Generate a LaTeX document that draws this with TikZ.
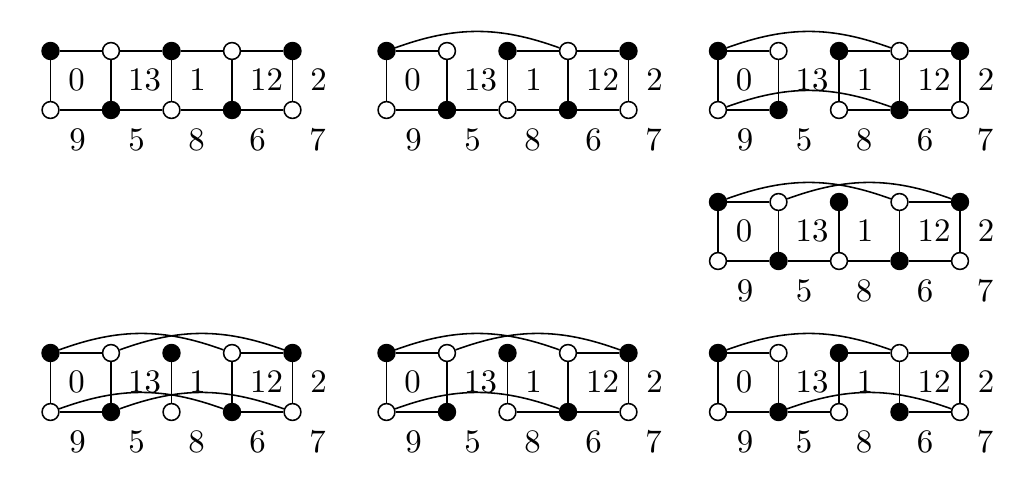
\documentclass[tikz,border=0pt]{standalone}
\newcommand{\mkpanel}[3]{%
  \foreach \i/\cl in {0/bv,1/wv,2/bv,3/wv,4/bv}
    \node[\cl] (#1t\i) at ({#2+60.5*\i},#3) {};
  \foreach \i/\cl in {0/wv,1/bv,2/wv,3/bv,4/wv}
    \node[\cl] (#1b\i) at ({#2+60.5*\i},{#3-59}) {};
  \foreach \dx/\tx in {26/0,94/13,147/1,216/12,268/2}
    \node[lab] (#1m\tx) at ({#2+\dx},{#3-29}) {\tx};
  \foreach \dx/\tx in {27/9,86/5,146/8,207/6,267/7}
    \node[lab] (#1n\tx) at ({#2+\dx},{#3-89}) {\tx};
  \foreach \i in {0,...,4}
    \draw[ed] (#1t\i) -- (#1b\i);
}
\begin{document}
\begin{tikzpicture}[x=0.32pt,y=0.32pt,
  vtx/.style={circle,draw,line width=0.5pt,inner sep=0pt,minimum size=5.4pt},
  bv/.style={vtx,fill=black},
  wv/.style={vtx,fill=white},
  ed/.style={line width=0.5pt},
  arcup/.style={ed,bend left=20},
  lab/.style={inner sep=0pt,font=\fontsize{10.5}{12}\selectfont}]
\useasboundingbox (0,0) rectangle (1035,481);

% Panel 1
\mkpanel{pa}{50.5}{430}
\draw[ed] (pat0)--(pat1) (pat1)--(pat2) (pat2)--(pat3) (pat3)--(pat4);
\draw[ed] (pab0)--(pab1) (pab1)--(pab2) (pab2)--(pab3) (pab3)--(pab4);

% Panel 2
\mkpanel{pb}{386.5}{430}
\draw[ed] (pbt0)--(pbt1) (pbt2)--(pbt3) (pbt3)--(pbt4);
\draw[arcup] (pbt0) to (pbt3);
\draw[ed] (pbb0)--(pbb1) (pbb1)--(pbb2) (pbb2)--(pbb3) (pbb3)--(pbb4);

% Panel 3
\mkpanel{pc}{718}{430}
\draw[ed] (pct0)--(pct1) (pct2)--(pct3) (pct3)--(pct4);
\draw[arcup] (pct0) to (pct3);
\draw[ed] (pcb0)--(pcb1) (pcb2)--(pcb3) (pcb3)--(pcb4);
\draw[arcup] (pcb0) to (pcb3);

% Panel 4
\mkpanel{pd}{718}{279}
\draw[ed] (pdt0)--(pdt1) (pdt3)--(pdt4);
\draw[arcup] (pdt0) to (pdt3);
\draw[arcup] (pdt1) to (pdt4);
\draw[ed] (pdb0)--(pdb1) (pdb1)--(pdb2) (pdb2)--(pdb3) (pdb3)--(pdb4);

% Panel 5
\mkpanel{pe}{50.5}{128}
\draw[ed] (pet0)--(pet1) (pet3)--(pet4);
\draw[arcup] (pet0) to (pet3);
\draw[arcup] (pet1) to (pet4);
\draw[ed] (peb0)--(peb1) (peb3)--(peb4);
\draw[arcup] (peb0) to (peb3);
\draw[arcup] (peb1) to (peb4);

% Panel 6
\mkpanel{pf}{386.5}{128}
\draw[ed] (pft0)--(pft1) (pft3)--(pft4);
\draw[arcup] (pft0) to (pft3);
\draw[arcup] (pft1) to (pft4);
\draw[ed] (pfb0)--(pfb1) (pfb2)--(pfb3) (pfb3)--(pfb4);
\draw[arcup] (pfb0) to (pfb3);

% Panel 7
\mkpanel{pg}{718}{128}
\draw[ed] (pgt0)--(pgt1) (pgt2)--(pgt3) (pgt3)--(pgt4);
\draw[arcup] (pgt0) to (pgt3);
\draw[ed] (pgb0)--(pgb1) (pgb1)--(pgb2) (pgb3)--(pgb4);
\draw[arcup] (pgb1) to (pgb4);
\end{tikzpicture}
\end{document}
